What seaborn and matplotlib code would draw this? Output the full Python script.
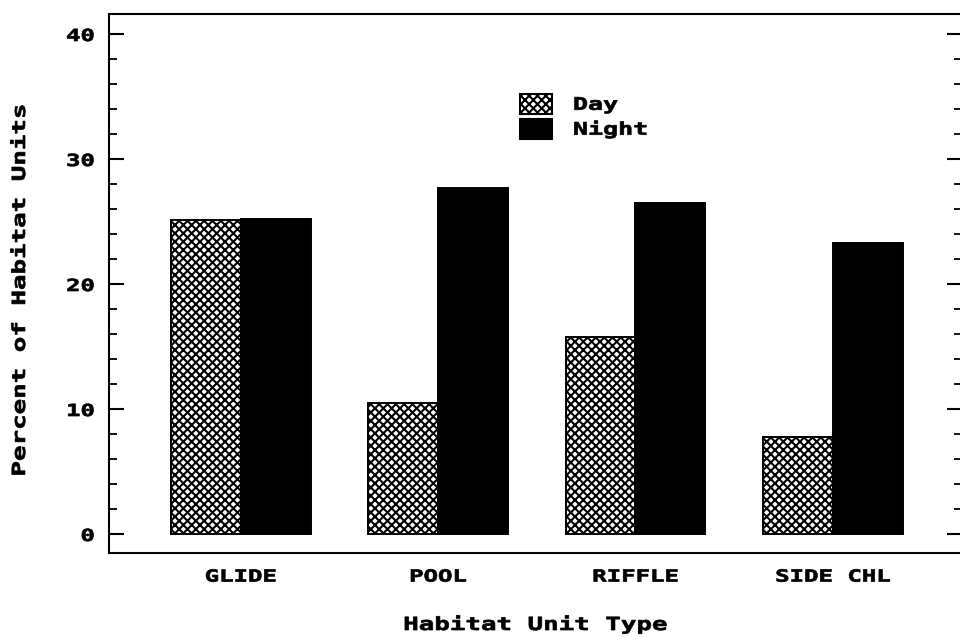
import matplotlib
matplotlib.use("Agg")
import matplotlib.pyplot as plt
import seaborn as sns
import pandas as pd
from matplotlib.patches import Patch
from matplotlib.patheffects import AbstractPathEffect
from matplotlib.transforms import Affine2D
from matplotlib.ticker import MultipleLocator

# ---- data ----
categories = ["GLIDE", "POOL", "RIFFLE", "SIDE CHL"]
day_values = [25.1, 10.5, 15.8, 7.8]
night_values = [25.2, 27.7, 26.5, 23.3]
series_names = ["Day", "Night"]
y_ticks = [0, 10, 20, 30, 40]
y_tick_labels = ["0", "10", "20", "30", "40"]
x_title = "Habitat Unit Type"
y_title = "Percent of Habitat Units"


class Stretch(AbstractPathEffect):
    """Stretch text glyphs horizontally (along the text direction) and embolden slightly."""

    def __init__(self, sx=1.5, anchor="center", stroke=0.5):
        super().__init__()
        self.sx = sx
        self.anchor = anchor
        self.stroke = stroke

    def draw_path(self, renderer, gc, tpath, affine, rgbFace=None):
        try:
            ext = tpath.get_extents()
            x0, x1 = ext.x0, ext.x1
        except Exception:
            x0 = x1 = 0.0
        if self.anchor == "left":
            a = 0.0
        elif self.anchor == "right":
            a = x1
        else:
            a = (x0 + x1) / 2.0
        t = Affine2D().translate(-a, 0).scale(self.sx, 1.0).translate(a, 0) + affine
        gc0 = renderer.new_gc()
        gc0.copy_properties(gc)
        gc0.set_linewidth(self.stroke)
        gc0.set_joinstyle("miter")
        renderer.draw_path(gc0, tpath, t, rgbFace)
        gc0.restore()


sns.set_style("white")
plt.rcParams["font.family"] = ["DejaVu Sans Mono", "DejaVu Sans"]
plt.rcParams["font.weight"] = "bold"
plt.rcParams["text.color"] = "black"
plt.rcParams["axes.labelcolor"] = "black"
plt.rcParams["xtick.color"] = "black"
plt.rcParams["ytick.color"] = "black"
plt.rcParams["hatch.linewidth"] = 1.5
plt.rcParams["hatch.color"] = "black"

HATCH = "xxxx"

df = pd.DataFrame({
    "habitat": categories * 2,
    "percent": day_values + night_values,
    "period": [series_names[0]] * len(categories) + [series_names[1]] * len(categories),
})

fig = plt.figure(figsize=(9.6, 6.37), dpi=100)
W, H = 960, 637
left_px, right_px, top_px, bottom_px = 109, 962, 14, 553
ax = fig.add_axes([left_px / W, 1 - bottom_px / H, (right_px - left_px) / W, (bottom_px - top_px) / H])

sns.barplot(
    data=df, x="habitat", y="percent", hue="period",
    order=categories, hue_order=series_names,
    palette={"Day": "white", "Night": "black"},
    edgecolor="black", linewidth=1.4, width=0.709,
    saturation=1, legend=False, errorbar=None, ax=ax,
)
for bar in ax.containers[0]:
    bar.set_hatch(HATCH)
    bar.set_facecolor("white")
    bar.set_edgecolor("black")

ax.set_xlim(-0.667, 3.654)
ax.set_ylim(-1.52, 41.6)

# spines
for s in ["left", "top", "bottom"]:
    ax.spines[s].set_visible(True)
    ax.spines[s].set_linewidth(1.5)
    ax.spines[s].set_color("black")
ax.spines["right"].set_visible(False)

# y ticks: both sides, inward
ax.set_yticks(y_ticks)
ax.set_yticklabels(y_tick_labels, fontsize=12, fontweight="bold", color="black")
ax.yaxis.set_minor_locator(MultipleLocator(2))
ax.tick_params(axis="y", which="major", direction="in", length=10.5, width=1.5,
               left=True, right=True, labelleft=True, labelright=False, pad=10.5,
               color="black", labelcolor="black")
ax.tick_params(axis="y", which="minor", direction="in", length=5.8, width=1.3,
               left=True, right=True, color="black")
for t in ax.get_yticklabels():
    t.set_path_effects([Stretch(1.44, "right")])

# x ticks
ax.set_xticks(range(len(categories)))
ax.set_xticklabels(categories, fontsize=12, fontweight="bold", color="black")
ax.tick_params(axis="x", which="both", length=0, pad=10.5, labelcolor="black")
for t in ax.get_xticklabels():
    t.set_path_effects([Stretch(1.44, "center")])

# axis titles
ax.set_xlabel(x_title, fontsize=13, fontweight="bold", color="black")
ax.xaxis.label.set_va("baseline")
ax.xaxis.set_label_coords(0.5, (bottom_px - 630) / (bottom_px - top_px))
ax.xaxis.label.set_path_effects([Stretch(1.43, "center")])

ax.set_ylabel(y_title, fontsize=13, fontweight="bold", color="black")
ax.yaxis.label.set_va("center")
ax.yaxis.set_label_coords((20 - left_px) / (right_px - left_px), (bottom_px - 290) / (bottom_px - top_px))
ax.yaxis.label.set_path_effects([Stretch(1.43, "center")])

# legend
handles = [
    Patch(facecolor="white", edgecolor="black", hatch=HATCH, linewidth=1.5),
    Patch(facecolor="black", edgecolor="black", linewidth=1.5),
]
leg = ax.legend(
    handles, series_names, loc="upper left",
    bbox_to_anchor=(520 / W, 1 - 94 / H), bbox_transform=fig.transFigure,
    frameon=False, borderpad=0, borderaxespad=0,
    prop={"family": "DejaVu Sans Mono", "weight": "bold", "size": 12.5},
    handlelength=1.85, handleheight=1.4, handletextpad=1.2, labelspacing=0.28,
)
for t in leg.get_texts():
    t.set_color("black")
    t.set_path_effects([Stretch(1.44, "left")])

fig.savefig("out.png", dpi=100, facecolor="white")
